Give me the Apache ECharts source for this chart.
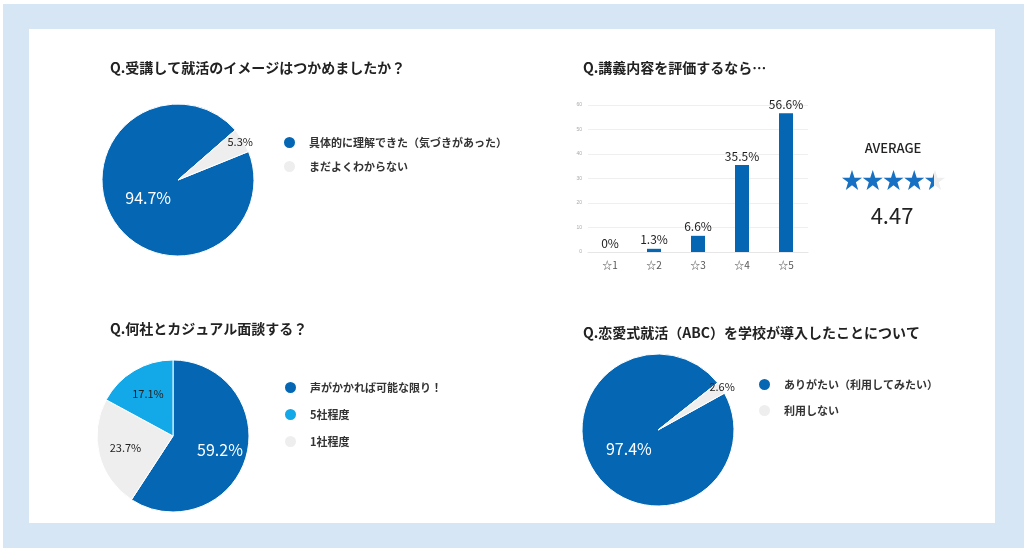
<!DOCTYPE html>
<html>
<head>
<meta charset="utf-8">
<script src="https://cdn.jsdelivr.net/npm/echarts@6/dist/echarts.min.js"></script>
<style>
  html, body { margin: 0; padding: 0; width: 1024px; height: 550px; background: #fff; overflow: hidden; }
  .frame { position: absolute; left: 3px; top: 4px; width: 1021px; height: 544px; background: #d6e6f5; }
  .panel { position: absolute; left: 29px; top: 29px; width: 966px; height: 494px; background: #fff; }
  #chart-container { position: absolute; left: 0; top: 0; width: 1024px; height: 550px; }
</style>
</head>
<body>
<div class="frame"></div>
<div class="panel"></div>
<div id="chart-container"></div>
<script>
'use strict';

// Q1
const q1Names = ['具体的に理解できた（気づきがあった）', 'まだよくわからない'];
const q1Values = [94.7, 5.3];
// Q2
const q2Categories = ['☆1', '☆2', '☆3', '☆4', '☆5'];
const q2Values = [0, 1.3, 6.6, 35.5, 56.6];
const q2Average = 4.47;
const q2MaxStars = 5;
// Q3 (pie order; legend order differs)
const q3Names = ['声がかかれば可能な限り！', '1社程度', '5社程度'];
const q3Values = [59.2, 23.7, 17.1];
const q3LegendOrder = ['声がかかれば可能な限り！', '5社程度', '1社程度'];
// Q4
const q4Names = ['ありがたい（利用してみたい）', '利用しない'];
const q4Values = [97.4, 2.6];

const titles = [
    'Q.受講して就活のイメージはつかめましたか？',
    'Q.講義内容を評価するなら…',
    'Q.何社とカジュアル面談する？',
    'Q.恋愛式就活（ABC）を学校が導入したことについて'
];

const BLUE = '#0567b3';
const LIGHT = '#13a8e8';
const GRAY = '#eeeeee';
const FONT = '"Noto Sans CJK JP", "Noto Sans", sans-serif';
const STAR = 'path://M50,2 L61.8,36.2 L97.6,36.2 L68.5,57.4 L79.4,91.6 L50,70.6 L20.6,91.6 L31.5,57.4 L2.4,36.2 L38.2,36.2 Z';

function toData(names, values, colors) {
    return names.map((n, i) => ({ name: n, value: values[i], itemStyle: { color: colors[i] } }));
}

// visible pie, labels hidden
function pie(center, names, values, colors, startAngle) {
    return {
        type: 'pie',
        center: center,
        radius: [0, 76],
        startAngle: startAngle,
        clockwise: true,
        silent: true,
        itemStyle: { borderColor: '#fff', borderWidth: 1 },
        label: { show: false },
        labelLine: { show: false },
        data: toData(names, values, colors)
    };
}

// transparent ring used only to place labels at a chosen radius
function labels(center, radius, names, values, startAngle, styles) {
    return {
        type: 'pie',
        center: center,
        radius: radius,
        startAngle: startAngle,
        clockwise: true,
        silent: true,
        itemStyle: { color: 'transparent' },
        labelLine: { show: false },
        data: names.map((n, i) => ({
            name: n,
            value: values[i],
            itemStyle: { color: 'rgba(0,0,0,0)' },
            label: styles[i]
                ? Object.assign({ show: true, position: 'inside', formatter: '{c}%', fontFamily: FONT }, styles[i])
                : { show: false }
        }))
    };
}

const big = { color: '#fff', fontSize: 16 };
const small = { color: '#222', fontSize: 11 };

const legendBase = {
    orient: 'vertical',
    icon: 'circle',
    itemWidth: 13,
    itemHeight: 13,
    selectedMode: false,
    textStyle: { fontFamily: FONT, fontSize: 11, fontWeight: 'bold', color: '#333', padding: [0, 0, 0, 8] }
};

const myChart = echarts.init(document.getElementById('chart-container'), null, { renderer: 'canvas' });

const option = {
    animation: false,
    title: [
        { text: titles[0], left: 110, top: 61 },
        { text: titles[1], left: 583, top: 61 },
        { text: titles[2], left: 110, top: 322 },
        { text: titles[3], left: 583, top: 326 }
    ].map(t => Object.assign(t, {
        padding: 0,
        textStyle: { fontFamily: FONT, fontSize: 14, fontWeight: 'bold', color: '#222' }
    })),
    legend: [
        Object.assign({ data: q1Names, left: 277, top: 130, itemGap: 9 }, legendBase),
        Object.assign({ data: q3LegendOrder, left: 278, top: 375, itemGap: 12 }, legendBase),
        Object.assign({ data: q4Names, left: 752, top: 372, itemGap: 11 }, legendBase)
    ],
    grid: [
        { left: 588, width: 220, top: 105, height: 147 },
        { left: 842, width: 103, top: 170, height: 20 }
    ],
    xAxis: [
        {
            type: 'category',
            gridIndex: 0,
            data: q2Categories,
            axisLine: { lineStyle: { color: '#e6e6e6' } },
            axisTick: { show: false },
            axisLabel: { color: '#555', fontSize: 10, margin: 8, fontFamily: FONT }
        },
        { type: 'value', gridIndex: 1, min: 0, max: q2MaxStars, show: false }
    ],
    yAxis: [
        {
            type: 'value',
            gridIndex: 0,
            min: 0,
            max: 60,
            interval: 10,
            axisLine: { show: false },
            axisTick: { show: false },
            splitLine: { lineStyle: { color: '#efefef' } },
            axisLabel: { color: '#aaa', fontSize: 5, margin: 6 }
        },
        { type: 'category', gridIndex: 1, data: ['avg'], show: false }
    ],
    graphic: [
        {
            type: 'text', x: 893, y: 148,
            style: { text: 'AVERAGE', align: 'center', verticalAlign: 'middle', fontFamily: FONT, fontSize: 13, fontWeight: 500, fill: '#222' }
        },
        {
            type: 'text', x: 892, y: 216,
            style: { text: q2Average.toFixed(2), align: 'center', verticalAlign: 'middle', fontFamily: FONT, fontSize: 22, fill: '#222' }
        }
    ],
    series: [
        pie([178, 180], q1Names, q1Values, [BLUE, GRAY], 22),
        pie([173, 436], q3Names, q3Values, [BLUE, GRAY, LIGHT], 90),
        pie([658, 430], q4Names, q4Values, [BLUE, GRAY], 29),
        labels([178, 180], [0, 64], q1Names, q1Values, 22, [big, null]),
        labels([178, 180], [64, 76], q1Names, q1Values, 22, [null, small]),
        labels([173, 436], [16, 76], q3Names, q3Values, 90, [big, small, small]),
        labels([658, 430], [0, 64], q4Names, q4Values, 29, [big, null]),
        labels([658, 430], [66, 82], q4Names, q4Values, 29, [null, small]),
        {
            type: 'bar',
            xAxisIndex: 0,
            yAxisIndex: 0,
            data: q2Values,
            barWidth: 14,
            itemStyle: { color: BLUE },
            label: { show: true, position: 'top', formatter: '{c}%', color: '#222', fontSize: 12, fontFamily: FONT, distance: 3 }
        },
        {
            type: 'pictorialBar',
            xAxisIndex: 1,
            yAxisIndex: 1,
            symbol: STAR,
            symbolSize: [20, 20],
            symbolRepeat: q2MaxStars,
            symbolBoundingData: q2MaxStars,
            barGap: '-100%',
            itemStyle: { color: GRAY },
            data: [q2MaxStars],
            z: 1
        },
        {
            type: 'pictorialBar',
            xAxisIndex: 1,
            yAxisIndex: 1,
            symbol: STAR,
            symbolSize: [20, 20],
            symbolRepeat: q2MaxStars,
            symbolBoundingData: q2MaxStars,
            symbolClip: true,
            barGap: '-100%',
            itemStyle: { color: '#1670c4' },
            data: [q2Average],
            z: 2
        }
    ]
};

myChart.setOption(option);
window.addEventListener('resize', myChart.resize);
</script>
</body>
</html>
